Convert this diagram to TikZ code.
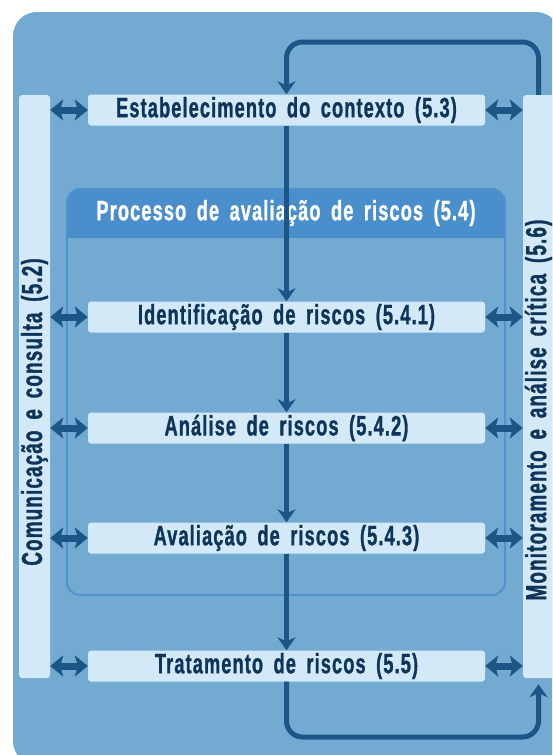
\documentclass[tikz,border=0pt]{standalone}
\usepackage{fontspec}
\setmainfont{Liberation Sans}[FakeStretch=0.65,LetterSpace=4,WordSpace=1.7,FakeBold=1]
\usetikzlibrary{arrows.meta}
\definecolor{panel}{HTML}{73AAD2}
\definecolor{boxfill}{HTML}{D3E9F8}
\definecolor{boxtext}{HTML}{0E3559}
\definecolor{header}{HTML}{4A8FCB}
\definecolor{grpline}{HTML}{4E93CD}
\definecolor{arrowcol}{HTML}{1B5687}

\begin{document}
\begin{tikzpicture}[x=1pt,y=-1pt,
	box/.style={fill=boxfill,rounded corners=3pt,minimum width=397pt,minimum height=31pt,inner sep=0pt,text=boxtext,font=\fontsize{28}{30}\selectfont\bfseries},
	bar/.style={fill=boxfill,rounded corners=3pt,minimum width=31pt,minimum height=583pt,inner sep=0pt},
	vlabel/.style={rotate=90,text=boxtext,inner sep=0pt,font=\fontsize{29}{30}\selectfont\bfseries},
	flow/.style={draw=arrowcol,line width=5pt,-{Stealth[length=13pt,width=18pt,inset=4pt]}},
	link/.style={draw=arrowcol,line width=7pt,{Stealth[length=13pt,width=21pt,inset=3pt]}-{Stealth[length=13pt,width=21pt,inset=3pt]}}]
			\clip (0,0) rectangle (552,755);
			%Background
			\fill[panel,rounded corners=24pt] (13,12) rectangle (560,765);
			%Assessment group
			\node[minimum width=438pt,minimum height=406pt,inner sep=0pt] (grp) at (286,392) {};
			\begin{scope}
			\clip[rounded corners=14pt] (grp.north west) rectangle (grp.south east);
			\fill[header] (grp.north west) rectangle ([yshift=-49pt]grp.north east);
			\end{scope}
			\draw[grpline,line width=2pt,rounded corners=14pt] (grp.north west) rectangle (grp.south east);
			\node[text=white,font=\fontsize{28}{30}\selectfont\bfseries] (grptitle) at (286,213) {Processo de avaliação de riscos (5.4)};
			%Side bars
			\node[bar] (lbar) at (34.5,386.5) {};
			\node[bar] (rbar) at (538.5,386.5) {};
			\node[vlabel] (ltext) at (34.5,412) {Comunicação e consulta (5.2)};
			\node[vlabel] (rtext) at (538.5,410) {Monitoramento e análise crítica (5.6)};
			%Steps
			\node[box] (estab) at (286.5,110) {Estabelecimento do contexto (5.3)};
			\node[box] (ident) at (286.5,317) {Identificação de riscos (5.4.1)};
			\node[box] (anal) at (286.5,428) {Análise de riscos (5.4.2)};
			\node[box] (aval) at (286.5,538) {Avaliação de riscos (5.4.3)};
			\node[box] (trat) at (286.5,666) {Tratamento de riscos (5.5)};
			%Main flow
			\coordinate (topc) at (286.5,42);
			\coordinate (lowc) at (538.5,737);
			\draw[flow,rounded corners=16pt] (rbar.north) |- (topc) -- (estab.north);
			\draw[flow] (estab) -- (ident);
			\draw[flow] (ident) -- (anal);
			\draw[flow] (anal) -- (aval);
			\draw[flow] (aval) -- (trat);
			\draw[flow,rounded corners=16pt,shorten >=6pt] (trat.south) |- (lowc) -- (rbar.south);
			%Links to the side bars
			\foreach \n in {estab,ident,anal,aval,trat}{
				\draw[link] (\n.west -| lbar.east) -- (\n.west);
				\draw[link] (\n.east) -- (\n.east -| rbar.west);
			}
\end{tikzpicture}
\end{document}
